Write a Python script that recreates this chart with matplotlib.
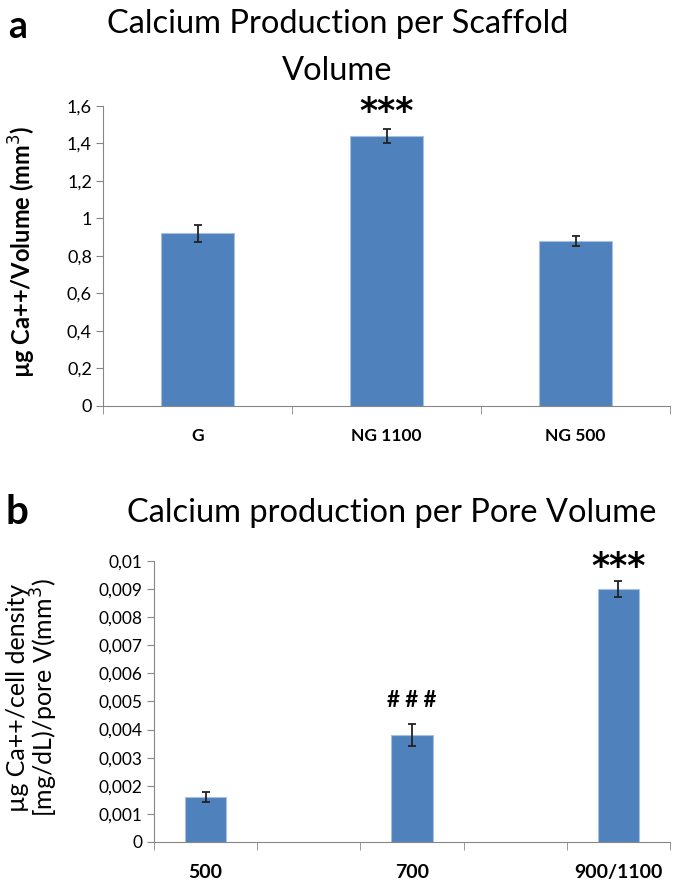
import matplotlib
matplotlib.use("Agg")
import matplotlib.pyplot as plt
import numpy as np

plt.rcParams['font.family'] = ['Lato', 'DejaVu Sans']

# panel a data
a_cats = ["G", "NG 1100", "NG 500"]
a_vals = [0.92, 1.44, 0.88]
a_errs = [0.045, 0.036, 0.025]
a_yticks = [0, 0.2, 0.4, 0.6, 0.8, 1.0, 1.2, 1.4, 1.6]
a_ylabels = ["0", "0,2", "0,4", "0,6", "0,8", "1", "1,2", "1,4", "1,6"]

# panel b data (five slots, bars in 1st, 3rd, 5th)
b_cats = ["500", "", "700", "", "900/1100"]
b_vals = [0.0016, 0, 0.0038, 0, 0.0090]
b_errs = [0.00018, 0, 0.0004, 0, 0.00028]
b_yticks = [0, 0.001, 0.002, 0.003, 0.004, 0.005, 0.006, 0.007, 0.008, 0.009, 0.01]
b_ylabels = ["0", "0,001", "0,002", "0,003", "0,004", "0,005", "0,006",
             "0,007", "0,008", "0,009", "0,01"]

bar_color = '#4F81BD'
edge_color = '#A7C0E0'
axis_color = '#868686'
err_kw = dict(ecolor='#222222', elinewidth=1.3, capthick=1.3)

fig = plt.figure(figsize=(6.75, 8.86), dpi=100)


def style_axes(ax, n, fs):
    ax.spines['top'].set_visible(False)
    ax.spines['right'].set_visible(False)
    ax.spines['left'].set_color(axis_color)
    ax.spines['bottom'].set_color(axis_color)
    ax.set_xlim(-0.5, n - 0.5)
    # category boundary ticks below the axis
    ax.set_xticks(np.arange(n + 1) - 0.5, minor=True)
    ax.tick_params(axis='x', which='minor', length=6, color=axis_color, direction='out')
    ax.tick_params(axis='x', which='major', length=0, pad=16)
    ax.tick_params(axis='y', length=5, color=axis_color, direction='out', labelsize=fs, pad=3)


# --- panel a ---
ax1 = fig.add_axes([0.1526, 0.5418, 0.840, 0.3386])
x1 = np.arange(len(a_cats))
ax1.bar(x1, a_vals, width=0.39, color=bar_color, edgecolor=edge_color, linewidth=0.8,
        yerr=a_errs, capsize=3, error_kw=err_kw)
style_axes(ax1, len(a_cats), 13)
ax1.set_ylim(0, 1.6)
ax1.set_yticks(a_yticks, a_ylabels)
ax1.set_xticks(x1, a_cats, fontsize=12.5, fontweight='bold')
ax1.set_ylabel("µg Ca++/Volume (mm$^3$)", fontsize=17, fontweight='bold',
               ha='center', va='center')
ax1.yaxis.set_label_coords(-0.143, 0.513)
ax1.text(1, 1.568, "***", ha='center', va='center', fontsize=25, fontweight='bold',
         family='DejaVu Sans')

fig.text(0.5, 0.973, "Calcium Production per Scaffold", ha='center', va='center', fontsize=23.5)
fig.text(0.5, 0.920, "Volume", ha='center', va='center', fontsize=23.5)
fig.text(0.012, 0.970, "a", ha='left', va='center', fontsize=27, fontweight='bold')

# --- panel b ---
ax2 = fig.add_axes([0.2281, 0.0497, 0.7645, 0.3171])
x2 = np.arange(len(b_cats))
mask = np.array(b_vals) > 0
ax2.bar(x2[mask], np.array(b_vals)[mask], width=0.4, color=bar_color, edgecolor=edge_color,
        linewidth=0.8, yerr=np.array(b_errs)[mask], capsize=3, error_kw=err_kw)
style_axes(ax2, len(b_cats), 12.5)
ax2.set_ylim(0, 0.01)
ax2.set_yticks(b_yticks, b_ylabels)
ax2.set_xticks(x2, b_cats, fontsize=14, fontweight='bold')
ax2.set_ylabel("µg Ca++/cell density\n[mg/dL)/pore V(mm$^3$)", fontsize=18, linespacing=1.0,
               ha='center', va='center')
ax2.yaxis.set_label_coords(-0.234, 0.512)
ax2.text(2, 0.00505, "# # #", ha='center', va='center', fontsize=16, fontweight='bold')
ax2.text(4, 0.00979, "***", ha='center', va='center', fontsize=25, fontweight='bold',
         family='DejaVu Sans')

fig.text(0.58, 0.421, "Calcium production per Pore Volume", ha='center', va='center', fontsize=23.5)
fig.text(0.008, 0.421, "b", ha='left', va='center', fontsize=29, fontweight='bold')

fig.savefig("out.png", dpi=100)
